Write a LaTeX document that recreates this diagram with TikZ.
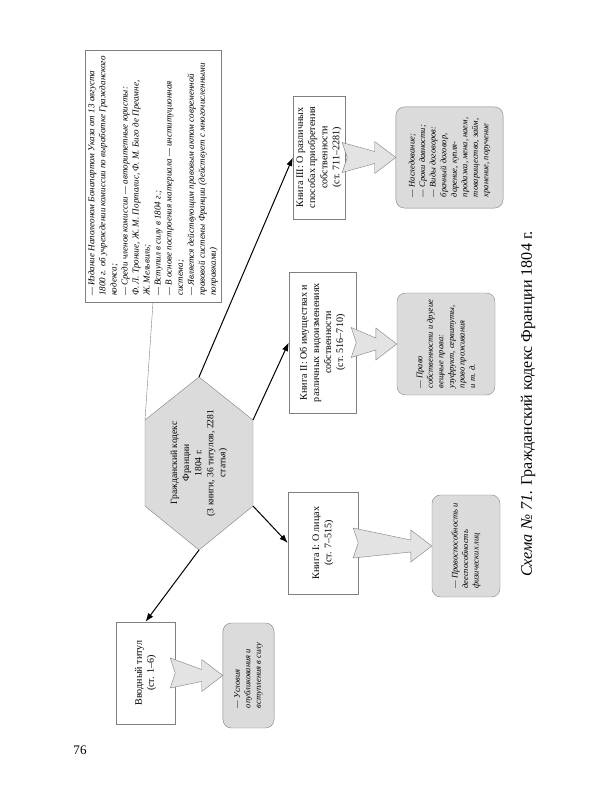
\documentclass[tikz,border=0pt]{standalone}
\usepackage{fontspec}
\setmainfont{Liberation Serif}
\usepackage{tikz}
\usetikzlibrary{arrows.meta,calc}

\tikzset{
  book/.style={draw=gray, rotate=90, align=center, inner sep=1pt, font=\fontsize{10}{12}\selectfont},
  note/.style={draw=gray, fill=gray!28, rounded corners=3mm, rotate=90, align=left, inner sep=1pt, font=\fontsize{8.5}{10.5}\selectfont\itshape},
  fatarr/.style={draw=gray, fill=gray!22},
  link/.style={-{Latex[length=3mm,width=2.2mm]}, line width=1pt}
}
\newcommand{\fatarrow}[2]{%
  \filldraw[fatarr] let \p1=(#1), \p2=(#2) in
    (\x1,\y1+5.25mm) -- (\x2-7.35mm,\y2+2.1mm) -- (\x2-7.35mm,\y2+5.6mm)
    -- (\x2,\y2) -- (\x2-7.35mm,\y2-5.6mm) -- (\x2-7.35mm,\y2-2.1mm)
    -- (\x1,\y1-5.25mm) -- (\x1+1.75mm,\y1) -- cycle;}

\begin{document}
\begin{tikzpicture}[x=0.35mm, y=-0.35mm]
    \useasboundingbox (0,0) rectangle (600,800);
    \coordinate (h1) at (199,377);
    \coordinate (h2) at (253,420);
    \coordinate (h3) at (253,506);
    \coordinate (h4) at (199,550);
    \coordinate (h5) at (145,506);
    \coordinate (h6) at (145,420);
    \filldraw[draw=gray, fill=gray!28] (h1)--(h2)--(h3)--(h4)--(h5)--(h6)--cycle;
    \node[rotate=90, align=center, font=\fontsize{9.5}{12}\selectfont] (code) at (199,463)
        {Гражданский кодекс\\ Франции\\ 1804 г.\\ (3 книги, 36 титулов, 2281\\ статья)};

    \node[draw=gray, rotate=90, align=left, minimum width=88.2mm, minimum height=47.6mm, inner sep=1pt,
          font=\fontsize{9}{11}\selectfont\itshape] (hist) at (153,176)
        {— Издание Наполеоном Бонапартом Указа от 13 августа\\
         1800 г. об учреждении комиссии по выработке Гражданского\\
         кодекса;\\
         — Среди членов комиссии — авторитетные юристы:\\
         Ф. Л. Тронше, Ж. М. Порталис, Ф. М. Биго де Преамне,\\
         Ж. Мельвиль;\\
         — Вступил в силу в 1804 г.;\\
         — В основе построения материала — институционная\\
         система;\\
         — Является действующим правовым актом современной\\
         правовой системы Франции (действует с многочисленными\\
         поправками)};

    \node[book, minimum width=43mm, minimum height=18.2mm] (b3) at (319,157.5)
        {Книга III: О различных\\ способах приобретения\\ собственности\\ (ст. 711–2281)};
    \node[book, minimum width=49.4mm, minimum height=23.5mm] (b2) at (322.5,342.5)
        {Книга II: Об имуществах и\\ различных видоизменениях\\ собственности\\ (ст. 516–710)};
    \node[book, minimum width=35.7mm, minimum height=24.5mm] (b1) at (323,543)
        {Книга I: О лицах\\ (ст. 7–515)};
    \node[book, minimum width=35.7mm, minimum height=20.7mm] (b0) at (145.5,673)
        {Вводный титул\\ (ст. 1–6)};

    \node[note, minimum width=35.4mm, minimum height=37.5mm] (n3) at (449.5,157.5)
        {— Наследование;\\ — Сроки давности;\\ — Виды договоров:\\ брачный договор,\\ дарение, купля-\\ продажа, мена, наем,\\ товарищество, займ,\\ хранение, поручение};
    \node[note, minimum width=35.7mm, minimum height=34.3mm] (n2) at (446,344)
        {— Право\\ собственности и другие\\ вещные права:\\ узуфрукт, сервитуты,\\ право проживания\\ и т. д.};
    \node[note, minimum width=35.7mm, minimum height=23.8mm] (n1) at (466,546)
        {— Правоспособность и\\ дееспособность\\ физических лиц};
    \node[note, minimum width=36.75mm, minimum height=17.9mm] (n0) at (248.5,675.5)
        {— Условия\\ опубликования и\\ вступления в силу};

    \draw[gray] (hist.west)--(h6);
    \draw[link] (h1)--(b3.north);
    \draw[link] (h2)--(b2.north);
    \draw[link] (h3)--(b1.north);
    \draw[link] (h4)--(b0.east);

    \fatarrow{$(b3.south)+(-3,0)$}{n3.north}
    \fatarrow{$(b2.south)+(-5,0)$}{n2.north}
    \fatarrow{$(b1.south)+(-5,0)$}{n1.north}
    \fatarrow{$(b0.south)+(-5,0)$}{n0.north}

    \node[rotate=90, font=\fontsize{16}{18}\selectfont] (cap) at (528,404)
        {\textit{Схема №~71.} Гражданский кодекс Франции 1804~г.};
    \node[font=\fontsize{13}{15}\selectfont] (page) at (80,750) {76};
\end{tikzpicture}
\end{document}
